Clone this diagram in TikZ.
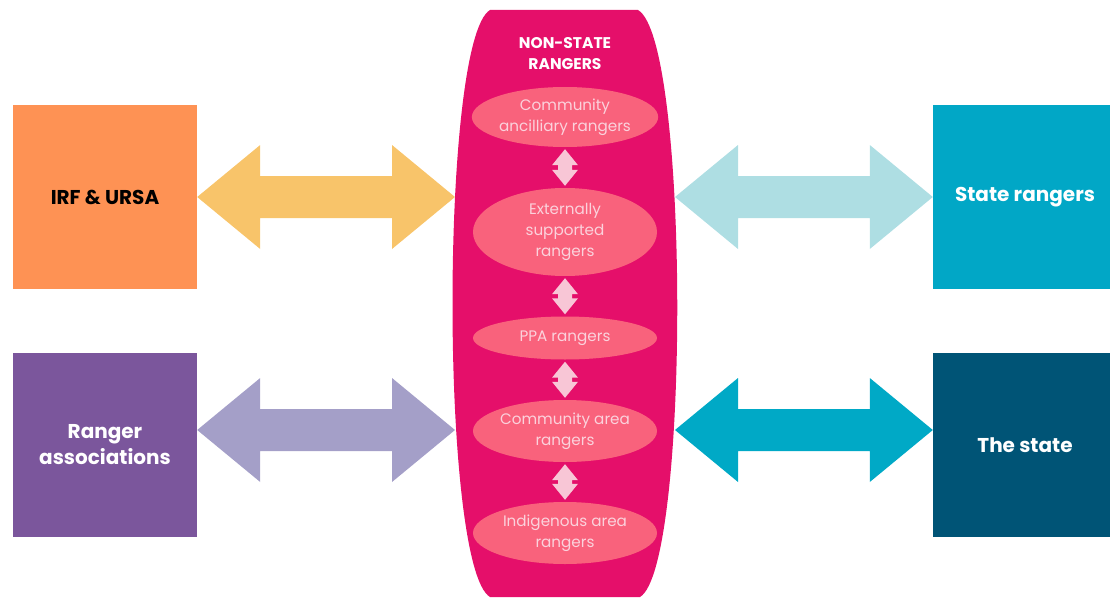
\documentclass[tikz,border=0pt]{standalone}
\usepackage{fontspec}
\setmainfont{Poppins}
\usetikzlibrary{shapes.geometric,calc}
\definecolor{nsmagenta}{RGB}{229,15,106}
\definecolor{nspink}{RGB}{249,98,124}
\definecolor{nstext}{RGB}{251,210,220}
\definecolor{linkpink}{RGB}{248,198,214}
\definecolor{irforange}{RGB}{254,146,84}
\definecolor{stateblue}{RGB}{1,167,198}
\definecolor{assocpurple}{RGB}{123,86,156}
\definecolor{statenavy}{RGB}{0,84,118}
\definecolor{arryellow}{RGB}{248,196,106}
\definecolor{arrlightblue}{RGB}{174,222,227}
\definecolor{arrlavender}{RGB}{164,159,200}
\definecolor{arrteal}{RGB}{0,169,198}

% wide double arrow: left end, right end, colour
\newcommand{\widearrow}[3]{%
  \fill[#3] let \p1=(#1), \p2=(#2) in
    (\x1,\y1) -- (\x1+63pt,\y1+52pt) -- (\x1+63pt,\y1+21pt) -- (\x2-63pt,\y1+21pt)
    -- (\x2-63pt,\y1+52pt) -- (\x2,\y1) -- (\x2-63pt,\y1-52pt) -- (\x2-63pt,\y1-21pt)
    -- (\x1+63pt,\y1-21pt) -- (\x1+63pt,\y1-52pt) -- cycle;}
% small up/down arrow between two ranger ellipses
\newcommand{\linkarrow}[2]{%
  \fill[linkpink] let \p1=($(#1.south)+(0pt,-2pt)$), \p2=($(#2.north)+(0pt,2pt)$) in
    (\x1,\y1) -- (\x1+13pt,\y1-16pt) -- (\x1+7pt,\y1-16pt) -- (\x1+7pt,\y2+16pt)
    -- (\x1+13pt,\y2+16pt) -- (\x1,\y2) -- (\x1-13pt,\y2+16pt) -- (\x1-7pt,\y2+16pt)
    -- (\x1-7pt,\y1-16pt) -- (\x1-13pt,\y1-16pt) -- cycle;}

\begin{document}
\begin{tikzpicture}[x=1pt,y=-1pt,
    box/.style={minimum width=184pt,minimum height=184pt,inner sep=0pt,align=center,
      font=\fontsize{20}{26}\selectfont\bfseries},
    ranger/.style={ellipse,fill=nspink,text=nstext,minimum width=184pt,inner sep=0pt,
      align=center,font=\fontsize{15.2}{21}\selectfont}]
  \useasboundingbox (0,0) rectangle (1110,599);

  \node[box,fill=irforange,text=black] (irf) at (105,197) {IRF \& URSA};
  \node[box,fill=assocpurple,text=white] (assoc) at (105,445) {Ranger\\associations};
  \node[box,fill=stateblue,text=white] (staterg) at (1025,197) {State rangers};
  \node[box,fill=statenavy,text=white] (state) at (1025,445) {The state};

  \coordinate (nsl1) at (455,197);
  \coordinate (nsr1) at (675,197);
  \coordinate (nsl2) at (455,430);
  \coordinate (nsr2) at (675,430);
  \widearrow{irf.east}{nsl1}{arryellow}
  \widearrow{nsr1}{staterg.west}{arrlightblue}
  \widearrow{assoc.east |- nsl2}{nsl2}{arrlavender}
  \widearrow{nsr2}{state.west |- nsr2}{arrteal}

  % non-state body
  \fill[nsmagenta] (490,10) -- (638,10)
    .. controls (690,40) and (690,567) .. (640,597) -- (490,597)
    .. controls (440,567) and (440,40) .. cycle;
  \node[text=white,align=center,font=\fontsize{15.5}{21}\selectfont\bfseries] (title)
    at (565,54) {NON-STATE\\RANGERS};

  \node[ranger,minimum height=60pt] (anc) at (565,117) {Community\\ancilliary rangers};
  \node[ranger,minimum height=88pt] (ext) at (565,232) {Externally\\supported\\rangers};
  \node[ranger,minimum height=43pt] (ppa) at (565,338) {PPA rangers};
  \node[ranger,minimum height=62pt] (comm) at (565,431) {Community area\\rangers};
  \node[ranger,minimum height=62pt] (indig) at (565,533) {Indigenous area\\rangers};
  \linkarrow{anc}{ext}
  \linkarrow{ext}{ppa}
  \linkarrow{ppa}{comm}
  \linkarrow{comm}{indig}
\end{tikzpicture}
\end{document}
